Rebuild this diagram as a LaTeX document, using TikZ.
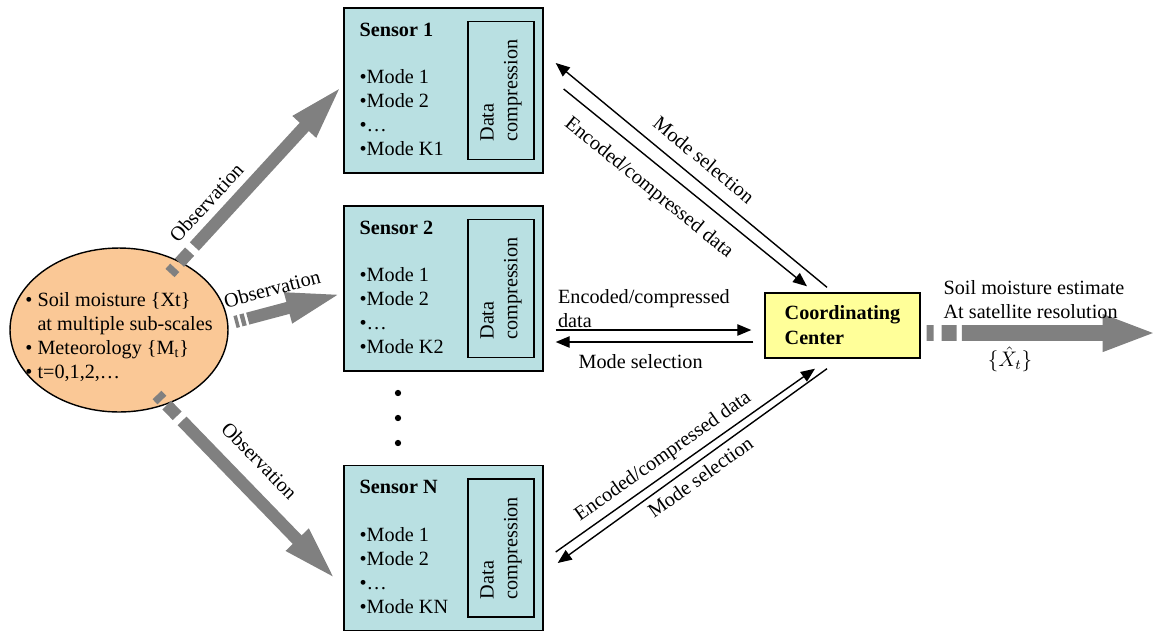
\documentclass[tikz,border=0pt]{standalone}
\usepackage{fontspec}
\setmainfont{Liberation Serif}
\usetikzlibrary{calc,arrows.meta,shapes.geometric,positioning}

\definecolor{soilorange}{RGB}{250,200,150}
\definecolor{sensorblue}{RGB}{185,224,226}
\definecolor{centeryellow}{RGB}{255,255,153}
\definecolor{obsgray}{RGB}{128,128,128}

\begin{document}
\begin{tikzpicture}
	[   x=0.02cm, y=-0.02cm,
		font=\fontsize{11.5}{13.6}\selectfont,
		sensor/.style={draw=black,fill=sensorblue,minimum width=3.98cm,minimum height=3.3cm,line width=0.8pt},
		dcbox/.style={draw=black,rotate=90,align=left,minimum width=2.76cm,minimum height=1.32cm,line width=0.8pt},
	]
	\tikzset{obs arrow/.style={draw=obsgray,line width=7pt,-{Triangle[length=32pt,width=16pt]}},
		obs dash/.style={dash pattern=on 4pt off 4pt on 8.5pt off 4pt on 800pt off 1pt},
		est arrow/.style={draw=obsgray,line width=9pt,-{Triangle[length=31pt,width=19pt]},
			dash pattern=on 4pt off 4.5pt on 8.5pt off 3pt on 800pt off 1pt},
		thin arrow/.style={draw,line width=0.8pt,-{Triangle[length=8pt,width=6.5pt]}}}
	\useasboundingbox (0,0) rectangle (1157,633);
	
	\node[ellipse,draw=black,fill=soilorange,minimum width=4.36cm,minimum height=3.28cm,line width=0.8pt] (soil) at (119,330) {};
	\node[align=left,inner sep=0pt] (soil-txt) at ($(soil.center)+(0,7)$)
	{\textbullet{} Soil moisture \{Xt\}\\ \phantom{\textbullet{} }at multiple sub-scales\\ \textbullet{} Meteorology \{M\textsubscript{t}\}\\ \textbullet{} t=0,1,2,…};
	
	\foreach \s/\y/\k in {1/90.5/K1, 2/288.5/K2, N/548/KN}
	{
		\node[sensor] (s-\s) at (443.5,\y) {};
		\node[dcbox] (dc-\s) at ($(s-\s.center)+(57.5,0)$) {Data\\compression};
		\node[align=left,anchor=north west,inner sep=0pt] (st-\s) at ($(s-\s.north west)+(16,15)$)
		{\textbf{Sensor \s}\\[13.6pt]\textbullet Mode 1\\\textbullet Mode 2\\\textbullet …\\\textbullet Mode \k};
	}
	\foreach \d in {393,418,443}
		\fill (398,\d) circle (1.8pt);
	
	\node[draw=black,fill=centeryellow,minimum width=3.1cm,minimum height=1.3cm,align=left,line width=0.8pt,
		font=\fontsize{11.5}{14.2}\selectfont\bfseries] (cc) at (842.5,325.5) {Coordinating\\Center};
	
	% observations
	\draw[obs arrow,obs dash] ($(soil.center)+(51,-57)$) -- node[above=1pt,sloped,pos=0.3] {Observation} ($(s-1.west)+(-1,-5)$);
	\draw[obs arrow,dash pattern=on 2pt off 1.5pt on 2.5pt off 1.5pt on 800pt off 1pt] ($(soil.center)+(116,-8)$) -- node[above=2pt,sloped,pos=0.4] {Observation} ($(s-2.west)+(-1,5)$);
	\draw[obs arrow,obs dash] ($(soil.center)+(38,65)$) -- node[above=5pt,sloped,pos=0.46] {Observation} ($(s-N.west)+(-7,32)$);
	
	% sensor 1 <-> center
	\draw[thin arrow] ($(cc.north)+(-15.5,-5)$) -- node[above=3.5pt,sloped,pos=0.5] {Mode selection} ($(s-1.east)+(12,-27.5)$);
	\draw[thin arrow] ($(s-1.east)+(20,-1.5)$) -- node[below=4.5pt,sloped,pos=0.41] {Encoded/compressed data} ($(cc.north)+(-35.5,-6)$);
	
	% sensor 2 <-> center
	\draw[thin arrow] ($(s-2.east)+(12,41.5)$) -- node[pos=0,anchor=south west,align=left,inner sep=1pt] {Encoded/compressed\\data} ($(cc.west)+(-13,4.5)$);
	\draw[thin arrow] ($(cc.west)+(-11,16.5)$) -- node[below=3.5pt,pos=0.57] {Mode selection} ($(s-2.east)+(12,53.5)$);
	
	% sensor N <-> center
	\draw[thin arrow] ($(s-N.east)+(12,4)$) -- node[above,sloped,pos=0.45] {Encoded/compressed data} ($(cc.south)+(-27.5,10)$);
	\draw[thin arrow] ($(cc.south)+(-15.5,10)$) -- node[below,sloped,pos=0.5] {Mode selection} ($(s-N.east)+(14,15)$);
	
	% estimate
	\coordinate (est) at (1157,333);
	\draw[est arrow] ($(cc.east)+(6,7.5)$) -- (est);
	\node[align=left] (est-lab) at (1034,300) {Soil moisture estimate\\At satellite resolution};
	\node (xhat) at (1010,359) {$\{\hat{X}_t\}$};
\end{tikzpicture}
\end{document}
